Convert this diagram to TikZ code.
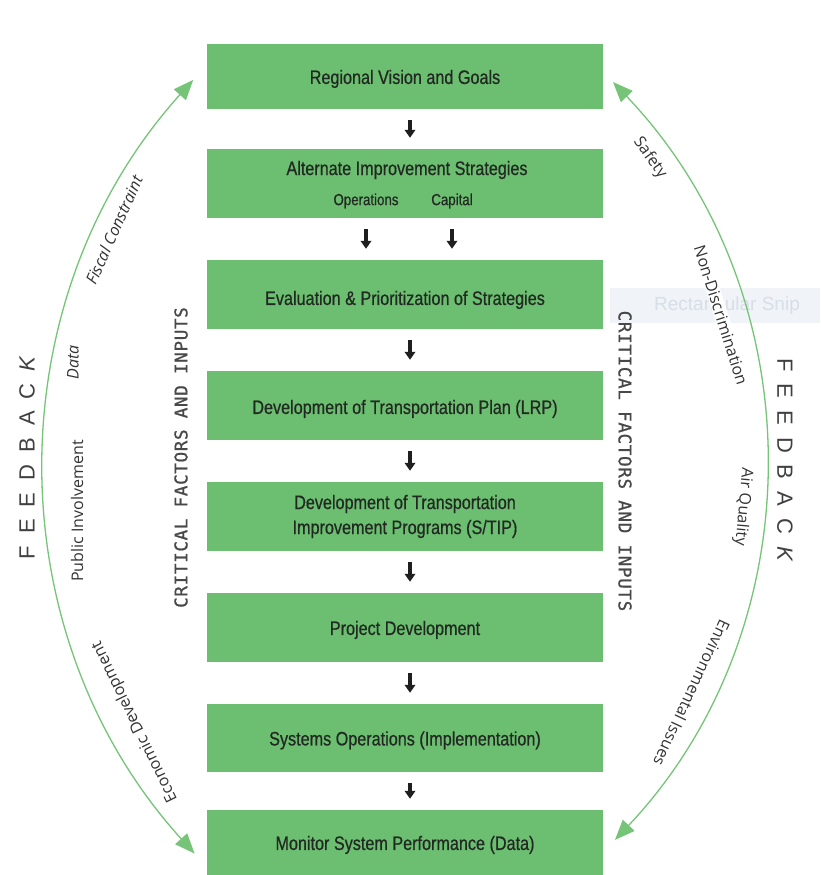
\documentclass[tikz,border=0pt]{standalone}
\usepackage{fontspec}
\setmainfont{Liberation Sans}
\newfontfamily\boxfont{Liberation Sans}[FakeStretch=0.83,FakeBold=0.6]
\newfontfamily\labfont{Open Sans}
\newfontfamily\critfont{DejaVu Sans Mono}[LetterSpace=4,FakeBold=1]
\usetikzlibrary{arrows.meta,calc}
\definecolor{boxgreen}{RGB}{108,191,112}
\definecolor{arcgreen}{RGB}{118,196,120}
\definecolor{boxtext}{RGB}{34,40,34}
\definecolor{crit}{RGB}{72,72,72}
\definecolor{snipbg}{RGB}{240,244,249}
\definecolor{sniptext}{RGB}{216,222,230}
\newcommand\fbword{F\hspace{12pt}E\hspace{12pt}E\hspace{12pt}D\hspace{12pt}B\hspace{12pt}A\hspace{12pt}C\hspace{12pt}\textit{K}}
\begin{document}
\begin{tikzpicture}[x=1pt,y=1pt,
  stepbox/.style={fill=boxgreen, draw=none, minimum width=396pt, minimum height=69pt,
    inner sep=0pt, text=boxtext, font=\boxfont\fontsize{19.5}{25}\selectfont, align=center},
  oneline/.style={text height=19pt, text depth=4.1pt},
  subtext/.style={text=boxtext, font=\boxfont\fontsize{16}{18}\selectfont, inner sep=0pt},
  flowarrow/.style={draw=black!88, line width=3.6pt, -{Triangle[length=8pt,width=10.5pt]},
    shorten <=11pt, shorten >=11pt},
  fbarc/.style={draw=arcgreen, line width=1.3pt,
    {Triangle[length=20pt,width=16pt]}-{Triangle[length=20pt,width=16pt]}},
  arclabel/.style={text=black!80, font=\labfont\fontsize{16}{18}\selectfont, inner sep=1pt},
  arclabelit/.style={text=black!80, font=\labfont\itshape\fontsize{16}{18}\selectfont, inner sep=1pt},
  critlabel/.style={text=crit, font=\critfont\fontsize{17.5}{20}\selectfont, inner sep=0pt},
  fblabel/.style={text=black!75, font=\fontsize{22}{24}\selectfont, inner sep=0pt}
]
\useasboundingbox[fill=white] (0,0) rectangle (820,875);

% faint screen-snip artifact
\fill[snipbg] (610,552) rectangle (820,587);
\node[text=sniptext, font=\fontsize{19}{20}\selectfont, inner sep=0pt] (snip) at (727,569) {Rectangular Snip};

% main boxes
\node[stepbox, oneline, minimum height=65pt] (b1) at (405,798.5) {Regional Vision and Goals};
\node[stepbox] (b2) at (405,691.5) {};
\node[subtext, font=\boxfont\fontsize{19.5}{22}\selectfont] (b2t) at (407,705) {Alternate Improvement Strategies};
\node[subtext] (op) at (366,674) {Operations};
\node[subtext] (cap) at (452,674) {Capital};
\node[stepbox, text height=25pt, text depth=4.1pt] (b3) at (405,580.5) {Evaluation \& Prioritization of Strategies};
\node[stepbox, text height=21pt, text depth=4.1pt] (b4) at (405,469.5) {Development of Transportation Plan (LRP)};
\node[stepbox] (b5) at (405,358.5) {Development of Transportation\\Improvement Programs (S/TIP)};
\node[stepbox, oneline] (b6) at (405,247.5) {Project Development};
\node[stepbox, oneline, minimum height=68pt] (b7) at (405,137) {Systems Operations (Implementation)};
\node[stepbox, oneline, minimum height=65pt] (b8) at (405,32.5) {Monitor System Performance (Data)};

% flow arrows
\draw[flowarrow] ([xshift=5pt]b1.south) -- ([xshift=5pt]b2.north);
\draw[flowarrow] (op |- b2.south) -- (op |- b3.north);
\draw[flowarrow] (cap |- b2.south) -- (cap |- b3.north);
\draw[flowarrow] ([xshift=5pt]b3.south) -- ([xshift=5pt]b4.north);
\draw[flowarrow] ([xshift=5pt]b4.south) -- ([xshift=5pt]b5.north);
\draw[flowarrow] ([xshift=5pt]b5.south) -- ([xshift=5pt]b6.north);
\draw[flowarrow] ([xshift=5pt]b6.south) -- ([xshift=5pt]b7.north);
\draw[flowarrow] ([xshift=5pt]b7.south) -- ([xshift=5pt]b8.north);

% critical factors
\node[critlabel, rotate=90] (critL) at (181,417.5) {CRITICAL FACTORS AND INPUTS};
\node[critlabel, rotate=-90] (critR) at (625,414) {CRITICAL FACTORS AND INPUTS};

% feedback words
\node[fblabel, rotate=90] (fbL) at (27,417.5) {\fbword};
\node[fblabel, rotate=-90] (fbR) at (785,415) {\fbword};

% arc labels
\node[arclabelit, rotate=66] (fiscal) at (114,645) {Fiscal Constraint};
\node[arclabelit, rotate=90] (data) at (73,513) {Data};
\node[arclabel, rotate=90] (public) at (77,364) {Public Involvement};
\node[arclabel, rotate=116] (econ) at (135,153) {Economic Development};
\node[arclabel, rotate=-55] (safety) at (650,717) {Safety};
\node[arclabel, rotate=-72.5, fill=white] (nondisc) at (721,560) {Non-Discrimination};
\node[arclabel, rotate=-95] (air) at (743,368) {Air Quality};
\node[arclabel, rotate=-115] (env) at (692,182) {Environmental Issues};

% feedback arcs
\coordinate (lc) at (622,409);
\coordinate (lbot) at ($(lc)+(222.2:577)$);
\draw[fbarc] (lbot) arc[start angle=222.2, end angle=138, radius=577];
\coordinate (rc) at (214,413);
\coordinate (rtop) at ($(rc)+(43.6:551)$);
\draw[fbarc] (rtop) arc[start angle=43.6, end angle=-43.3, radius=551];
\end{tikzpicture}
\end{document}
